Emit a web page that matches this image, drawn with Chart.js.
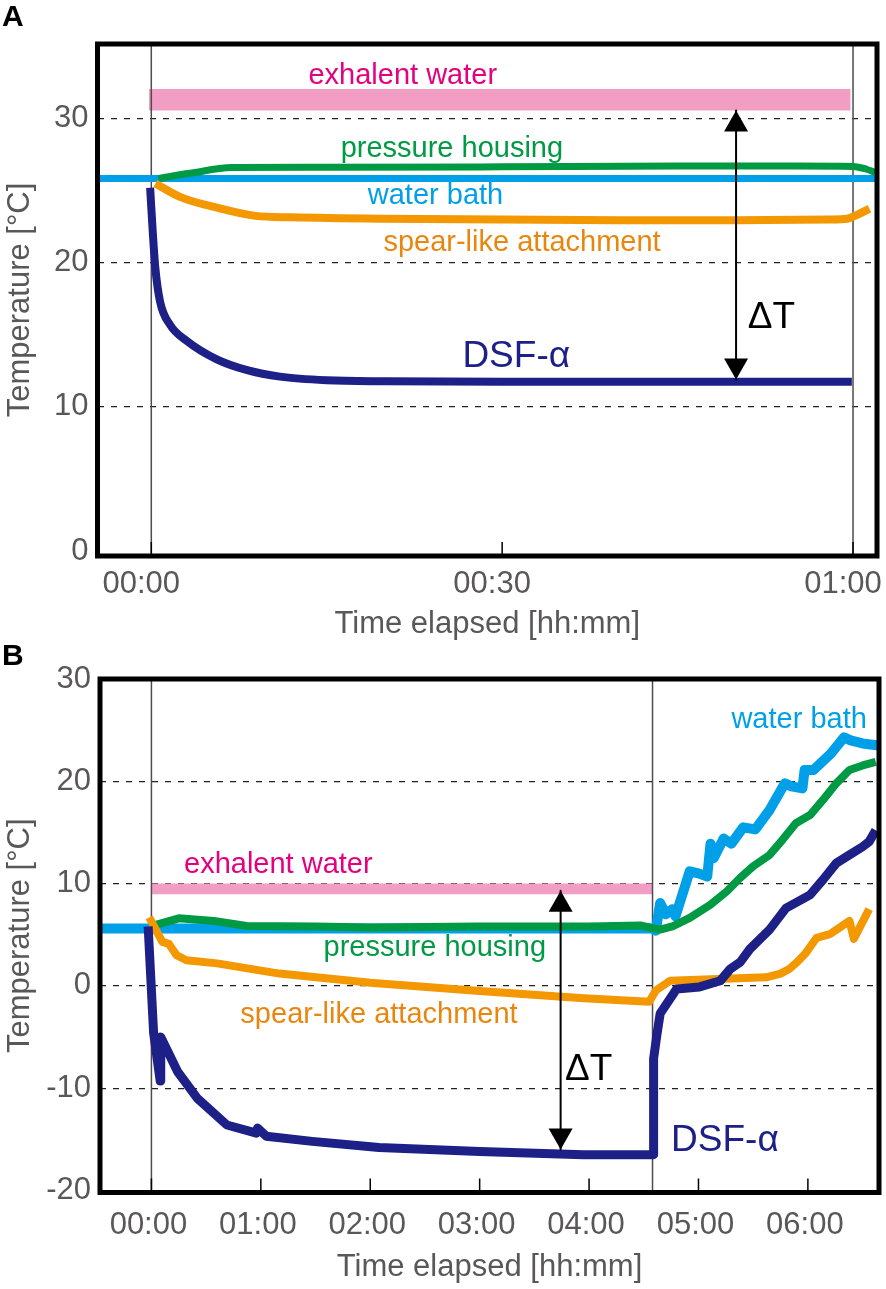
<!DOCTYPE html>
<html>
<head>
<meta charset="utf-8">
<title>DSF-alpha temperature records</title>
<script src="https://cdn.jsdelivr.net/npm/chart.js@4.4.1/dist/chart.umd.min.js"></script>
<style>
  html, body { margin: 0; padding: 0; background: #fff; }
  #page { position: relative; width: 886px; height: 1289px; overflow: hidden; }
  canvas { position: absolute; left: 0; }
  #cvA { top: 0; }
  #cvB { top: 645px; }
  .panel { position: absolute; left: 2px; font: bold 30px "Liberation Sans", Arial, sans-serif; line-height: 1; color: #000; }
</style>
</head>
<body>
<div id="page">
  <canvas id="cvA" width="886" height="645"></canvas>
  <canvas id="cvB" width="886" height="644"></canvas>
  <div class="panel" style="top:1px">A</div>
  <div class="panel" style="top:640px">B</div>
</div>
<script>
// ---------- Panel A (time in minutes, temperature in °C) ----------
const xTickValuesA = [0, 30, 60];
const xTickLabelsA = ['00:00', '00:30', '01:00'];
const yTickValuesA = [0, 10, 20, 30];
const yGridValuesA = [10, 20, 30];

const bathTimeA = [-4.6, 62.05];
const bathTempA = [25.85, 25.85];

const housingTimeA = [0.6, 3.3, 6.9, 15, 30, 45, 55, 60, 61.1, 61.9];
const housingTempA = [25.85, 26.2, 26.6, 26.62, 26.65, 26.7, 26.7, 26.68, 26.5, 26.25];

const spearTimeA = [0.35, 2.5, 5.7, 8.9, 12, 20, 30, 40, 50, 58, 59.5, 60.3, 61.4];
const spearTempA = [25.5, 24.55, 23.8, 23.25, 23.15, 23.05, 23.0, 22.95, 22.95, 23.0, 23.05, 23.3, 23.75];

const dsfTimeA = [-0.1, 0.15, 0.35, 0.75, 1.6, 3.0, 5.6, 8.2, 11, 15, 20, 30, 40, 50, 59.9];
const dsfTempA = [25.2, 21.8, 19.6, 17.3, 15.7, 14.6, 13.3, 12.55, 12.1, 11.85, 11.78, 11.75, 11.75, 11.75, 11.75];

const exhalentTimeA = [-0.2, 59.8];
const exhalentLowA = [30.55, 30.55];
const exhalentHighA = [32.05, 32.05];

const markerTimesA = [0, 60];
const deltaTA = { time: 50, from: 30.55, to: 11.9 };

// ---------- Panel B (time in hours, temperature in °C) ----------
const xTickValuesB = [0, 1, 2, 3, 4, 5, 6];
const xTickLabelsB = ['00:00', '01:00', '02:00', '03:00', '04:00', '05:00', '06:00'];
const yTickValuesB = [-20, -10, 0, 10, 20, 30];
const yGridValuesB = [-10, 0, 10, 20];

const bathTimeB = [-0.47, 4.58, 4.61, 4.65, 4.70, 4.76, 4.79, 4.92, 5.0, 5.08, 5.11, 5.14, 5.23, 5.30,
  5.41, 5.52, 5.65, 5.79, 5.85, 5.95, 5.97, 6.05, 6.21, 6.33, 6.39, 6.50, 6.65];
const bathTempB = [5.6, 5.6, 5.4, 8.1, 7.0, 7.5, 6.8, 11.2, 11.0, 10.7, 13.9, 12.5, 14.4, 13.9,
  15.5, 15.3, 17.2, 19.8, 19.5, 19.3, 21.1, 21.1, 22.7, 24.3, 24.0, 23.7, 23.5];

const housingTimeB = [0, 0.25, 0.57, 0.87, 1.5, 2, 3, 4, 4.47, 4.56, 4.65, 4.77, 4.92, 5.11, 5.26,
  5.38, 5.50, 5.65, 5.77, 5.89, 6.02, 6.14, 6.26, 6.38, 6.50, 6.62];
const housingTempB = [5.85, 6.6, 6.35, 5.85, 5.8, 5.7, 5.8, 5.8, 5.9, 5.7, 5.5, 5.85, 6.65, 7.95, 9.25,
  10.55, 11.7, 12.8, 14.3, 15.9, 16.7, 18.2, 19.8, 21.1, 21.55, 21.9];

const spearTimeB = [-0.02, 0.02, 0.1, 0.16, 0.23, 0.32, 0.6, 1.17, 2.0, 3.0, 3.95, 4.55, 4.61, 4.74,
  5.17, 5.62, 5.75, 5.83, 5.90, 5.98, 6.08, 6.20, 6.29, 6.38, 6.42, 6.56];
const spearTempB = [6.7, 5.9, 4.3, 4.1, 3.0, 2.5, 2.2, 1.2, 0.3, -0.5, -1.2, -1.55, -0.45, 0.5,
  0.68, 0.84, 1.2, 1.65, 2.3, 3.2, 4.7, 5.05, 5.7, 6.35, 4.6, 7.5];

const dsfTimeB = [-0.03, 0.02, 0.08, 0.085, 0.24, 0.42, 0.69, 0.96, 0.97, 1.05, 1.47, 2.08, 3.0, 3.95,
  4.59, 4.59, 4.62, 4.65, 4.71, 4.80, 5.01, 5.2, 5.29, 5.38, 5.47, 5.65, 5.80, 6.02, 6.14, 6.26,
  6.38, 6.50, 6.56, 6.62];
const dsfTempB = [5.8, -4.6, -9.3, -5.0, -8.4, -11.0, -13.6, -14.4, -13.9, -14.7, -15.2, -15.8, -16.2, -16.5,
  -16.5, -7.1, -4.8, -2.7, -1.75, -0.3, -0.1, 0.5, 1.65, 2.3, 3.6, 5.5, 7.6, 8.9, 10.4, 12.0,
  12.8, 13.6, 14.1, 15.2];

const exhalentTimeB = [0, 4.58];
const exhalentLowB = [8.95, 8.95];
const exhalentHighB = [10.0, 10.0];

const markerTimesB = [0, 4.58];
const deltaTB = { time: 3.74, from: 9.3, to: -16.0 };

// ---------- styles ----------
const FONT = '"Liberation Sans", Arial, Helvetica, sans-serif';
const GRAY = '#595757';
const COL = {
  bath: '#00a0e9', housing: '#009944', spear: '#f39800', dsf: '#1d2087',
  band: '#f29ec4', bandText: '#e4007f', spearText: '#e9860e'
};

// text labels placed in data coordinates
const notesA = [
  { text: 'exhalent water', x: 21.5, y: 32.4, color: COL.bandText, size: 29, align: 'center' },
  { text: 'pressure housing', x: 25.7, y: 27.3, color: COL.housing, size: 29, align: 'center' },
  { text: 'water bath', x: 24.3, y: 24.1, color: COL.bath, size: 29, align: 'center' },
  { text: 'spear-like attachment', x: 31.7, y: 20.8, color: COL.spearText, size: 29, align: 'center' },
  { text: 'DSF-\u03b1', x: 26.6, y: 12.75, color: COL.dsf, size: 37, align: 'left' },
  { text: '\u0394T', x: 51.0, y: 15.5, color: '#000', size: 37, align: 'left' }
];
const notesB = [
  { text: 'water bath', x: 5.92, y: 25.2, color: COL.bath, size: 29, align: 'center' },
  { text: 'exhalent water', x: 1.16, y: 11.0, color: COL.bandText, size: 29, align: 'center' },
  { text: 'pressure housing', x: 2.59, y: 2.9, color: COL.housing, size: 29, align: 'center' },
  { text: 'spear-like attachment', x: 2.08, y: -3.65, color: COL.spearText, size: 29, align: 'center' },
  { text: 'DSF-\u03b1', x: 4.75, y: -16.1, color: COL.dsf, size: 37, align: 'left' },
  { text: '\u0394T', x: 3.78, y: -9.2, color: '#000', size: 37, align: 'left' }
];

function series(xs, ys, color, width, extra) {
  return Object.assign({
    data: xs.map((x, i) => ({ x: x, y: ys[i] })),
    borderColor: color,
    borderWidth: width,
    pointRadius: 0,
    pointHoverRadius: 0,
    fill: false,
    tension: 0,
    borderJoinStyle: 'round',
    borderCapStyle: 'butt'
  }, extra || {});
}

// thick frame round the plot area plus small inward tick marks
const framePlugin = {
  id: 'frame',
  afterDraw(chart) {
    const { ctx, chartArea: a, scales: { x } } = chart;
    ctx.save();
    ctx.strokeStyle = '#000';
    ctx.lineWidth = 1.5;
    x.ticks.forEach(t => {
      const px = x.getPixelForValue(t.value);
      ctx.beginPath();
      ctx.moveTo(px, a.bottom);
      ctx.lineTo(px, a.bottom - 14);
      ctx.stroke();
    });
    ctx.lineWidth = 5;
    ctx.strokeRect(a.left, a.top, a.right - a.left, a.bottom - a.top);
    ctx.restore();
  }
};

// arrow heads for the ΔT arrow and the text labels
function notesPlugin(notes) {
  return {
    id: 'notes',
    afterDatasetsDraw(chart) {
      const { ctx, scales: { x, y } } = chart;
      ctx.save();
      chart.data.datasets.forEach((ds, i) => {
        if (!ds.arrow) return;
        const pts = chart.getDatasetMeta(i).data;
        [[pts[0], pts[1]], [pts[pts.length - 1], pts[pts.length - 2]]].forEach(([tip, from]) => {
          const dir = Math.sign(tip.y - from.y);
          ctx.beginPath();
          ctx.moveTo(tip.x, tip.y);
          ctx.lineTo(tip.x - 12, tip.y - dir * 21);
          ctx.lineTo(tip.x + 12, tip.y - dir * 21);
          ctx.closePath();
          ctx.fillStyle = '#000';
          ctx.fill();
        });
      });
      notes.forEach(n => {
        ctx.font = n.size + 'px ' + FONT;
        ctx.fillStyle = n.color;
        ctx.textAlign = n.align;
        ctx.textBaseline = 'alphabetic';
        ctx.fillText(n.text, x.getPixelForValue(n.x), y.getPixelForValue(n.y));
      });
      ctx.restore();
    }
  };
}

function buildChart(id, p) {
  const curve = p.smooth ? 'monotone' : 'default';
  const datasets = [
    series([p.arrow.time, p.arrow.time], [p.arrow.from, p.arrow.to], '#000', 2, { arrow: true }),
    series(p.dsf[0], p.dsf[1], COL.dsf, p.widths.dsf, { cubicInterpolationMode: curve }),
    series(p.spear[0], p.spear[1], COL.spear, p.widths.spear, { cubicInterpolationMode: curve }),
    series(p.housing[0], p.housing[1], COL.housing, p.widths.housing, { cubicInterpolationMode: curve }),
    series(p.bath[0], p.bath[1], COL.bath, p.widths.bath),
    ...p.markers.map(t => series([t, t], [p.yMin, p.yMax], '#4d4d4d', 1.5)),
    series(p.band[0], p.band[1], 'transparent', 0),
    series(p.band[0], p.band[2], 'transparent', 0, { fill: '-1', backgroundColor: COL.band })
  ];

  return new Chart(document.getElementById(id), {
    type: 'line',
    data: { datasets: datasets },
    options: {
      responsive: false,
      animation: false,
      events: [],
      layout: { padding: { left: 0, top: p.top, right: p.right, bottom: 0 } },
      plugins: { legend: { display: false }, tooltip: { enabled: false } },
      scales: {
        x: {
          type: 'linear',
          min: p.xMin,
          max: p.xMax,
          afterBuildTicks: s => { s.ticks = p.xTicks.map(v => ({ value: v })); },
          afterFit: s => { s.height = p.xHeight; s.paddingLeft = 0; s.paddingRight = 0; },
          grid: { display: false, drawTicks: false },
          border: { display: false },
          ticks: {
            callback: (v, i) => p.xLabels[i],
            color: GRAY,
            font: { family: FONT, size: 31 },
            padding: p.xTickPad,
            labelOffset: p.xLabelShift,
            maxRotation: 0,
            autoSkip: false
          },
          title: {
            display: true,
            text: 'Time elapsed [hh:mm]',
            color: GRAY,
            font: { family: FONT, size: 31 },
            padding: { top: 0, bottom: p.xTitlePad }
          }
        },
        y: {
          type: 'linear',
          min: p.yMin,
          max: p.yMax,
          afterBuildTicks: s => { s.ticks = p.yTicks.map(v => ({ value: v })); },
          afterFit: s => { s.width = p.yWidth; s.paddingTop = 0; s.paddingBottom = 0; },
          grid: {
            color: c => (c.tick && p.yGrid.includes(c.tick.value)) ? '#222' : 'transparent',
            lineWidth: 1.2,
            drawTicks: false
          },
          border: { display: false, dash: [6, 7] },
          ticks: {
            callback: v => String(v),
            color: GRAY,
            font: { family: FONT, size: 31 },
            padding: 9
          },
          title: {
            display: true,
            text: 'Temperature [°C]',
            color: GRAY,
            font: { family: FONT, size: 31 },
            padding: { top: 2, bottom: 0 }
          }
        }
      }
    },
    plugins: [framePlugin, notesPlugin(p.notes)]
  });
}

buildChart('cvA', {
  xMin: -4.6, xMax: 62.05, yMin: -0.34, yMax: 35.17,
  xTicks: xTickValuesA, xLabels: xTickLabelsA, yTicks: yTickValuesA, yGrid: yGridValuesA,
  bath: [bathTimeA, bathTempA], housing: [housingTimeA, housingTempA],
  spear: [spearTimeA, spearTempA], dsf: [dsfTimeA, dsfTempA],
  band: [exhalentTimeA, exhalentLowA, exhalentHighA],
  markers: markerTimesA, arrow: deltaTA, notes: notesA, smooth: true,
  widths: { bath: 7, housing: 7, spear: 8, dsf: 8 },
  top: 44, right: 9, yWidth: 97.5, xHeight: 89, xTickPad: 10, xTitlePad: 2, xLabelShift: -10
});

buildChart('cvB', {
  xMin: -0.47, xMax: 6.65, yMin: -20.2, yMax: 30,
  xTicks: xTickValuesB, xLabels: xTickLabelsB, yTicks: yTickValuesB, yGrid: yGridValuesB,
  bath: [bathTimeB, bathTempB], housing: [housingTimeB, housingTempB],
  spear: [spearTimeB, spearTempB], dsf: [dsfTimeB, dsfTempB],
  band: [exhalentTimeB, exhalentLowB, exhalentHighB],
  markers: markerTimesB, arrow: deltaTB, notes: notesB, smooth: false,
  widths: { bath: 10, housing: 8, spear: 8, dsf: 9 },
  top: 34, right: 7, yWidth: 100, xHeight: 96.5, xTickPad: 14, xTitlePad: 3, xLabelShift: -3
});
</script>
</body>
</html>
